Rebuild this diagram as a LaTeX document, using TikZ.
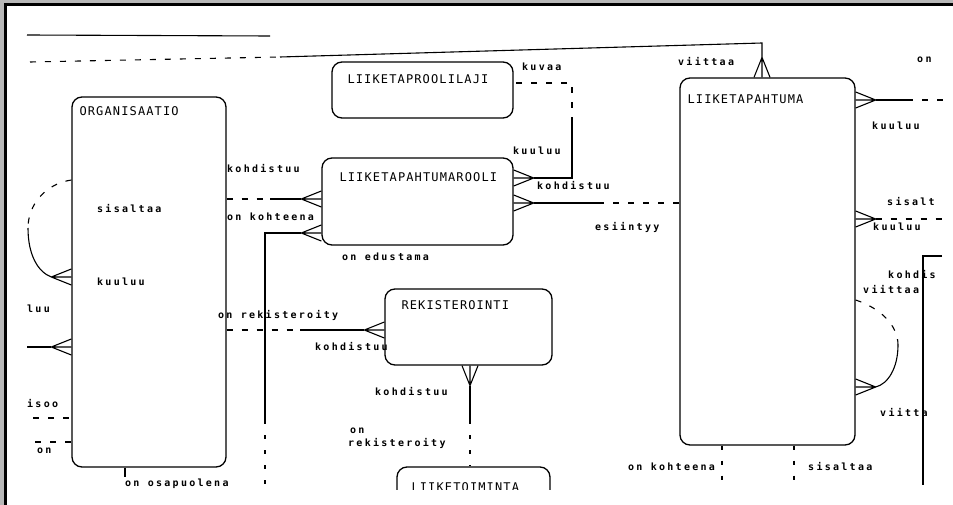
\documentclass[tikz,border=0pt]{standalone}
\usepackage{fontspec}
\newfontfamily\lblfont[LetterSpace=22.8]{DejaVu Sans Mono}
\newfontfamily\titlefont[LetterSpace=9.4]{DejaVu Sans Mono}
\usetikzlibrary{calc}
\definecolor{framegray}{RGB}{184,184,184}

\tikzset{
  entity/.style={draw, rounded corners=10pt, line width=1.3pt, inner sep=0pt},
  etitle/.style={font=\titlefont\fontsize{12}{12}\selectfont, inner sep=0pt, anchor=base west},
  lbl/.style={font=\lblfont\bfseries\fontsize{10}{10}\selectfont, inner sep=0pt, anchor=base west},
  rel/.style={line width=1.1pt},
  opt/.style={rel, dash pattern=on 6pt off 9pt},
  dots/.style={rel, dash pattern=on 4pt off 11pt},
  crow/.pic={\draw[rel] (-20,0) -- (0,-8) (-20,0) -- (0,0) (-20,0) -- (0,8);}
}

\begin{document}
\begin{tikzpicture}[x=1pt,y=-1pt]
\useasboundingbox (0,0) rectangle (953,505);
% frame of the scan
\fill[framegray] (0,0) rectangle (953,505);
\fill[white] (7,6) rectangle (953,505);
\fill[black] (4,3) rectangle (953,6);
\fill[black] (4,3) rectangle (7,505);

\begin{scope}
\clip (25,7) rectangle (943,489);
% entities
\node[entity, minimum width=154pt, minimum height=370pt] (org) at (149,282) {};
\node[entity, minimum width=181pt, minimum height=56pt] (laji) at (422.5,90) {};
\node[entity, minimum width=191pt, minimum height=87pt] (rooli) at (417.5,201.5) {};
\node[entity, minimum width=175pt, minimum height=367pt] (tapahtuma) at (767.5,261.5) {};
\node[entity, minimum width=167pt, minimum height=76pt] (rek) at (468.5,327) {};
\node[entity, minimum width=153pt, minimum height=60pt] (toiminta) at (473.5,497) {};

\node[etitle] (orgT) at ($(org.north west)+(8,19)$) {ORGANISAATIO};
\node[etitle] (lajiT) at ($(laji.north west)+(16,22)$) {LIIKETAPROOLILAJI};
\node[etitle] (rooliT) at ($(rooli.north west)+(18,24)$) {LIIKETAPAHTUMAROOLI};
\node[etitle] (tapahtumaT) at ($(tapahtuma.north west)+(8,26)$) {LIIKETAPAHTUMA};
\node[etitle] (rekT) at ($(rek.north west)+(17,21)$) {REKISTEROINTI};
\node[etitle] (toimintaT) at ($(toiminta.north west)+(15,25)$) {LIIKETOIMINTA};

% top lines
\coordinate (eTop1) at (27,35);
\coordinate (eTop1r) at (270,36);
\coordinate (eTop2) at (30,62);
\coordinate (mTop2) at (280,57);
\coordinate (kTop2) at (762,43);
\draw[rel] (eTop1) -- (eTop1r);
\draw[opt] (eTop2) -- (mTop2);
\draw[rel] (mTop2) -- (kTop2) -- ($(tapahtuma.north -| kTop2)+(0,-20)$);
\pic[rotate=-90] at (tapahtuma.north -| kTop2) {crow};

% organisaatio, left side
\coordinate (oLoop) at (28,228);
\draw[opt] (org.west |- 0,180) .. controls (45,184) and (28,205) .. (oLoop);
\draw[rel] (oLoop) .. controls (28,255) and (38,272) .. ($(org.west |- 0,277)+(-20,0)$);
\pic at (org.west |- 0,277) {crow};
\coordinate (eL1) at (27,347);
\draw[rel] (eL1) -- ($(org.west |- eL1)+(-20,0)$);
\pic at (org.west |- eL1) {crow};
\coordinate (eL2) at (33,418);
\draw[opt] (eL2) -- (org.west |- eL2);
\coordinate (eL3) at (35,442);
\draw[opt] (eL3) -- (org.west |- eL3);
\draw[rel] (org.south -| 125,0) -- ++(0,9);

% organisaatio -- liiketapahtumarooli
\coordinate (mRo1) at (270,199);
\draw[opt] (org.east |- mRo1) -- (mRo1);
\draw[rel] (mRo1) -- ($(rooli.west |- mRo1)+(-20,0)$);
\pic at (rooli.west |- mRo1) {crow};
\coordinate (mRo2) at (265,233);
\coordinate (mRo2b) at (265,420);
\coordinate (eRo2) at (265,490);
\draw[rel] ($(rooli.west |- mRo2)+(-20,0)$) -- (mRo2) -- (mRo2b);
\draw[dots] (mRo2b) -- (eRo2);
\pic at (rooli.west |- mRo2) {crow};

% organisaatio -- rekisterointi
\coordinate (mRek) at (300,330);
\draw[opt] (org.east |- mRek) -- (mRek);
\draw[rel] (mRek) -- ($(rek.west |- mRek)+(-20,0)$);
\pic at (rek.west |- mRek) {crow};

% liiketapahtumarooli -- laji, -- liiketapahtuma
\coordinate (mLa1) at (572,178);
\coordinate (mLa2) at (572,123);
\coordinate (mLa3) at (572,83);
\draw[rel] ($(rooli.east |- mLa1)+(20,0)$) -- (mLa1) -- (mLa2);
\draw[opt] (mLa2) -- (mLa3) -- (laji.east |- mLa3);
\pic[rotate=180] at (rooli.east |- mLa1) {crow};
\coordinate (mTa) at (598,203);
\draw[rel] ($(rooli.east |- mTa)+(20,0)$) -- (mTa);
\draw[opt] (mTa) -- (tapahtuma.west |- mTa);
\pic[rotate=180] at (rooli.east |- mTa) {crow};

% liiketapahtuma, right side
\coordinate (mR1) at (907,100);
\coordinate (eR1) at (945,100);
\draw[rel] ($(tapahtuma.east |- mR1)+(20,0)$) -- (mR1);
\draw[opt] (mR1) -- (eR1);
\pic[rotate=180] at (tapahtuma.east |- mR1) {crow};
\coordinate (eR2) at (945,219);
\draw[opt] ($(tapahtuma.east |- eR2)+(20,0)$) -- (eR2);
\pic[rotate=180] at (tapahtuma.east |- eR2) {crow};
\coordinate (eV1) at (942,256);
\coordinate (mV) at (923,256);
\coordinate (eV2) at (923,485);
\draw[rel] (eV1) -- (mV) -- (eV2);
\coordinate (tLoop) at (898,345);
\draw[opt] (tapahtuma.east |- 0,300) .. controls (880,308) and (898,325) .. (tLoop);
\draw[rel] (tLoop) .. controls (898,368) and (888,384) .. ($(tapahtuma.east |- 0,387)+(20,0)$);
\pic[rotate=180] at (tapahtuma.east |- 0,387) {crow};

% rekisterointi -- liiketoiminta
\coordinate (mRt) at (470,420);
\pic[rotate=90] at (rek.south -| mRt) {crow};
\draw[rel] ($(rek.south -| mRt)+(0,20)$) -- (mRt);
\draw[dots] (mRt) -- (toiminta.north -| mRt);

% liiketapahtuma, bottom
\coordinate (eB1) at (722,490);
\coordinate (eB2) at (794,490);
\draw[dots] (tapahtuma.south -| eB1) -- (eB1);
\draw[dots] (tapahtuma.south -| eB2) -- (eB2);

% labels
\node[lbl] (lSis) at (97,213) {sisaltaa};
\node[lbl] (lKuu) at (97,285) {kuuluu};
\node[lbl] (lLuu) at (27,312) {luu};
\node[lbl] (lIsoo) at (27,407) {isoo};
\node[lbl] (lOn1) at (37,453) {on};
\node[lbl] (lOsa) at (125,486) {on osapuolena};
\node[lbl] (lKoh1) at (227,173) {kohdistuu};
\node[lbl] (lKoht1) at (227,221) {on kohteena};
\node[lbl] (lEdu) at (342,261) {on edustama};
\node[lbl] (lRek1) at (218,318) {on rekisteroity};
\node[lbl] (lKoh2) at (315,350) {kohdistuu};
\node[lbl] (lKoh3) at (375,395) {kohdistuu};
\node[lbl] (lOn2) at (350,433) {on};
\node[lbl] (lRek2) at (348,446) {rekisteroity};
\node[lbl] (lKuv) at (522,71) {kuvaa};
\node[lbl] (lKuu2) at (513,155) {kuuluu};
\node[lbl] (lKoh4) at (537,190) {kohdistuu};
\node[lbl] (lEsi) at (595,231) {esiintyy};
\node[lbl] (lVii1) at (678,66) {viittaa};
\node[lbl] (lOn3) at (917,63) {on};
\node[lbl] (lKuu3) at (872,130) {kuuluu};
\node[lbl] (lSis2) at (887,206) {sisalt};
\node[lbl] (lKuu4) at (873,230) {kuuluu};
\node[lbl] (lKoh5) at (888,278) {kohdis};
\node[lbl] (lVii2) at (863,293) {viittaa};
\node[lbl] (lVii3) at (880,416) {viitta};
\node[lbl] (lKoht2) at (628,470) {on kohteena};
\node[lbl] (lSis3) at (808,470) {sisaltaa};
\end{scope}
\end{tikzpicture}
\end{document}
